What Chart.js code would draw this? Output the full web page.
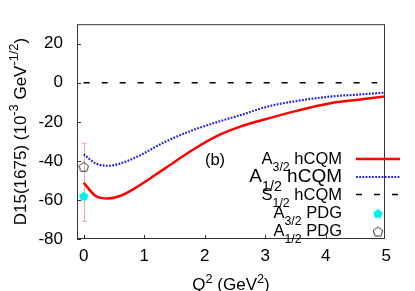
<!DOCTYPE html>
<html>
<head>
<meta charset="utf-8">
<script src="https://cdn.jsdelivr.net/npm/chart.js@4/dist/chart.umd.min.js"></script>
<style>
html, body { margin: 0; padding: 0; background: #fff; }
#wrap { width: 415px; height: 291px; }
</style>
</head>
<body>
<div id="wrap"><canvas id="chart" width="415" height="291"></canvas></div>
<script>
// values
const q2 = [0, 0.2, 0.4, 0.6, 0.9, 1.35, 1.8, 2.25, 2.6, 3.0, 3.5, 4.1, 4.6, 5.0];
const a32hcqm = [-51.2, -58.0, -59.3, -58.0, -53.0, -43.7, -34.4, -26.6, -22.3, -18.7, -14.5, -10.3, -8.4, -7.0];
const a12hcqm = [-36.6, -41.3, -42.5, -41.4, -37.6, -30.2, -24.3, -19.7, -16.5, -12.5, -9.4, -7.0, -5.9, -5.0];
const s12q2 = [0, 4.85];
const s12hcqm = [0, 0];
const pdgQ2 = [0];
const a32pdg = [-58];
const a12pdg = [-43];
const pdgErrLow = [-71];
const pdgErrHigh = [-31];
const xTicks = [0, 1, 2, 3, 4, 5];
const yTicks = [-80, -60, -40, -20, 0, 20];

const FONT = "'Liberation Sans', Arial, sans-serif";

function pts(xs, ys) {
    return xs.map(function (x, i) { return { x: x, y: ys[i] }; });
}

function pentagon(size, fill, stroke) {
    let c = document.createElement("canvas");
    c.width = size + 2;
    c.height = size + 2;
    let g = c.getContext("2d");
    let r = size / 2;
    let cx = c.width / 2, cy = c.height / 2 + 0.5;
    g.beginPath();
    for (let i = 0; i < 5; i++) {
        let a = -Math.PI / 2 + i * 2 * Math.PI / 5;
        let px = cx + r * Math.cos(a), py = cy + r * Math.sin(a);
        if (i === 0) g.moveTo(px, py); else g.lineTo(px, py);
    }
    g.closePath();
    if (fill) { g.fillStyle = fill; g.fill(); }
    if (stroke) { g.strokeStyle = stroke; g.lineWidth = 1; g.stroke(); }
    return c;
}

// simple markup: _{sub} and ^{sup}
function parseRich(s) {
    let parts = [];
    let re = /([_^])\{([^}]*)\}|([^_^]+)/g;
    let m;
    while ((m = re.exec(s)) !== null) {
        if (m[3]) parts.push({ t: m[3], k: "" });
        else parts.push({ t: m[2], k: m[1] });
    }
    return parts;
}

function drawRich(ctx, s, x, y, align, size) {
    let parts = parseRich(s);
    let small = size * 0.75;
    let w = 0;
    parts.forEach(function (p) {
        ctx.font = (p.k ? small : size) + "px " + FONT;
        p.w = ctx.measureText(p.t).width;
        w += p.w;
    });
    let cx = x;
    if (align === "right") cx = x - w;
    else if (align === "center") cx = x - w / 2;
    ctx.textAlign = "left";
    ctx.textBaseline = "alphabetic";
    parts.forEach(function (p) {
        ctx.font = (p.k ? small : size) + "px " + FONT;
        let dy = 0;
        if (p.k === "_") dy = size * 0.45;
        if (p.k === "^") dy = -size * 0.42;
        ctx.fillText(p.t, cx, y + dy);
        cx += p.w;
    });
}

const decorPlugin = {
    id: "decor",
    beforeDatasetsDraw: function (chart) {
        let ctx = chart.ctx;
        let xs = chart.scales.x, ys = chart.scales.y;
        ctx.save();
        ctx.strokeStyle = "#f4a3a3";
        ctx.lineWidth = 1;
        pdgQ2.forEach(function (q, i) {
            let px = Math.round(xs.getPixelForValue(q)) + 0.5;
            let y1 = ys.getPixelForValue(pdgErrLow[i]);
            let y2 = ys.getPixelForValue(pdgErrHigh[i]);
            ctx.beginPath();
            ctx.moveTo(px, y1); ctx.lineTo(px, y2);
            ctx.moveTo(px - 2.5, y1); ctx.lineTo(px + 2.5, y1);
            ctx.moveTo(px - 2.5, y2); ctx.lineTo(px + 2.5, y2);
            ctx.stroke();
        });
        ctx.restore();
    },
    afterDraw: function (chart) {
        let ctx = chart.ctx;
        let a = chart.chartArea;
        let xs = chart.scales.x, ys = chart.scales.y;
        ctx.save();
        // frame and inward ticks
        ctx.strokeStyle = "#333";
        ctx.lineWidth = 1;
        ctx.strokeRect(a.left + 0.5, a.top + 0.5, a.right - a.left - 1, a.bottom - a.top - 1);
        ctx.beginPath();
        yTicks.forEach(function (v) {
            let py = Math.round(ys.getPixelForValue(v)) + 0.5;
            ctx.moveTo(a.left, py); ctx.lineTo(a.left + 4, py);
        });
        xTicks.forEach(function (v) {
            let px = Math.round(xs.getPixelForValue(v)) + 0.5;
            if (px < a.right - 2) { ctx.moveTo(px, a.bottom); ctx.lineTo(px, a.bottom - 4); }
        });
        ctx.stroke();

        ctx.fillStyle = "#000";
        // axis titles
        drawRich(ctx, "Q^{2} (GeV^{2})", (a.left + a.right) / 2, 290, "center", 17);
        ctx.save();
        ctx.translate(25.5, (a.top + a.bottom) / 2);
        ctx.rotate(-Math.PI / 2);
        drawRich(ctx, "D15(1675) (10^{-3} GeV^{-1/2})", 0, 0, "center", 17);
        ctx.restore();

        // panel tag
        let opt = chart.options.plugins.decor;
        drawRich(ctx, opt.tag.text, xs.getPixelForValue(opt.tag.x), ys.getPixelForValue(opt.tag.y), "center", 16.5);

        // key
        chart.data.datasets.forEach(function (ds, i) {
            let row = opt.key.rows[i];
            ctx.fillStyle = "#000";
            drawRich(ctx, ds.label, opt.key.textRight, row.base, "right", row.size);
            let sy = row.base - 5;
            if (ds.showLine !== false) {
                ctx.save();
                ctx.strokeStyle = ds.borderColor;
                ctx.lineWidth = ds.borderWidth;
                ctx.setLineDash(ds.borderDash || []);
                ctx.beginPath();
                ctx.moveTo(opt.key.sampleLeft, sy);
                ctx.lineTo(opt.key.sampleRight, sy);
                ctx.stroke();
                ctx.restore();
            } else {
                let img = ds.pointStyle;
                ctx.drawImage(img, 378 - img.width / 2, sy - img.height / 2 + 1);
            }
        });
        ctx.restore();
    }
};

const chart = new Chart(document.getElementById("chart"), {
    type: "line",
    data: {
        datasets: [{
            label: "A_{3/2} hCQM",
            data: pts(q2, a32hcqm),
            borderColor: "#ff0000",
            borderWidth: 2.5,
            pointRadius: 0,
            cubicInterpolationMode: "monotone",
            fill: false
        }, {
            label: "A_{1/2} hCQM",
            data: pts(q2, a12hcqm),
            borderColor: "#2222ee",
            borderWidth: 2.2,
            borderDash: [1.8, 1.4],
            pointRadius: 0,
            cubicInterpolationMode: "monotone",
            fill: false
        }, {
            label: "S_{1/2} hCQM",
            data: pts(s12q2, s12hcqm),
            borderColor: "#000000",
            borderWidth: 1.6,
            borderDash: [6, 12],
            pointRadius: 0,
            fill: false
        }, {
            label: "A_{3/2} PDG",
            data: pts(pdgQ2, a32pdg),
            showLine: false,
            pointStyle: pentagon(10, "#00f0f0", null),
            pointRadius: 5,
            order: -2
        }, {
            label: "A_{1/2} PDG",
            data: pts(pdgQ2, a12pdg),
            showLine: false,
            pointStyle: pentagon(10, null, "#333"),
            pointRadius: 5,
            order: -1
        }]
    },
    options: {
        responsive: false,
        animation: false,
        devicePixelRatio: 1,
        layout: { padding: { top: 20, right: 30, left: 0, bottom: 0 } },
        scales: {
            x: {
                type: "linear",
                min: -0.11,
                max: 4.98,
                afterFit: function (s) { s.height = 52; },
                afterBuildTicks: function (s) { s.ticks = xTicks.map(function (v) { return { value: v }; }); },
                grid: { display: false, drawTicks: false },
                border: { display: false },
                ticks: { color: "#000", font: { family: FONT, size: 17 }, padding: 7, maxRotation: 0 }
            },
            y: {
                min: -80,
                max: 30,
                afterFit: function (s) { s.width = 77; },
                afterBuildTicks: function (s) { s.ticks = yTicks.map(function (v) { return { value: v }; }); },
                grid: { display: false, drawTicks: false },
                border: { display: false },
                ticks: { color: "#000", font: { family: FONT, size: 17 }, padding: 14 }
            }
        },
        plugins: {
            legend: { display: false },
            tooltip: { enabled: false },
            decor: {
                tag: { text: "(b)", x: 2.17, y: -42.3 },
                key: {
                    textRight: 342,
                    sampleLeft: 356,
                    sampleRight: 400,
                    rows: [
                        { base: 164, size: 16.5 },
                        { base: 182, size: 19 },
                        { base: 199.5, size: 16.5 },
                        { base: 217.5, size: 16.5 },
                        { base: 235.5, size: 16.5 }
                    ]
                }
            }
        }
    },
    plugins: [decorPlugin]
});
</script>
</body>
</html>
